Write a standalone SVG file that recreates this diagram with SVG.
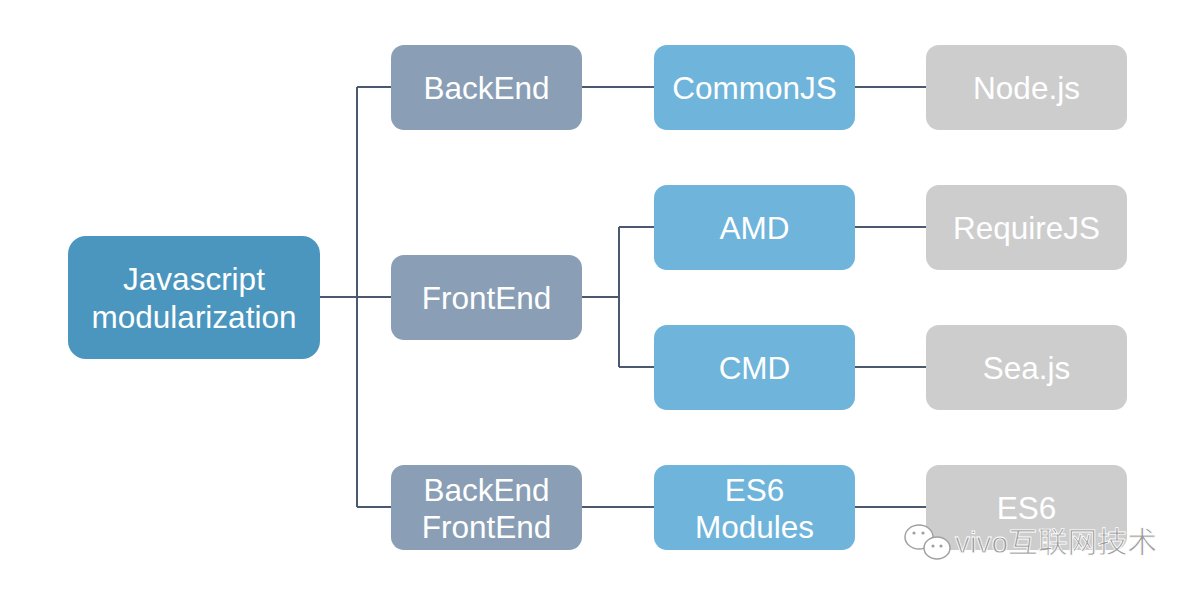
<svg xmlns="http://www.w3.org/2000/svg" width="1195" height="595" viewBox="0 0 1195 595">
<style>
.t{font-family:"Liberation Sans",Arial,sans-serif;font-size:31.5px;fill:#fff;text-anchor:middle}
.c{stroke:#4b5870;stroke-width:2;fill:none}
.wm{font-family:"Liberation Sans","Noto Sans CJK SC",sans-serif;font-size:29px;fill:#9a9a9a;stroke:#fff;stroke-width:0.8}
</style>
<rect width="1195" height="595" fill="#fff"/>
<g id="connectors">
<path class="c" d="M320 297H391M357 87V507M357 87H391M357 507H391"/>
<path class="c" d="M582 297H619M619 227V367M619 227H654M619 367H654"/>
<path class="c" d="M582 87H654M582 507H654"/>
<path class="c" d="M855 87H926M855 227H926M855 367H926M855 507H926"/>
</g>
<g id="root"><rect x="68" y="236" width="252" height="123" rx="18" fill="#4a96be"/><text class="t" x="194" y="290">Javascript</text><text class="t" x="194" y="328">modularization</text></g>
<g id="backend"><rect x="391" y="45" width="191" height="85" rx="13" fill="#8a9fb5"/><text class="t" x="486.5" y="99">BackEnd</text></g>
<g id="frontend"><rect x="391" y="255" width="191" height="85" rx="13" fill="#8a9fb5"/><text class="t" x="486.5" y="309">FrontEnd</text></g>
<g id="backfront"><rect x="391" y="465" width="191" height="85" rx="13" fill="#8a9fb5"/><text class="t" x="486.5" y="501">BackEnd</text><text class="t" x="486.5" y="538">FrontEnd</text></g>
<g id="commonjs"><rect x="654" y="45" width="201" height="85" rx="13" fill="#6fb4da"/><text class="t" x="754.5" y="99">CommonJS</text></g>
<g id="amd"><rect x="654" y="185" width="201" height="85" rx="13" fill="#6fb4da"/><text class="t" x="754.5" y="239">AMD</text></g>
<g id="cmd"><rect x="654" y="325" width="201" height="85" rx="13" fill="#6fb4da"/><text class="t" x="754.5" y="379">CMD</text></g>
<g id="es6modules"><rect x="654" y="465" width="201" height="85" rx="13" fill="#6fb4da"/><text class="t" x="754.5" y="501">ES6</text><text class="t" x="754.5" y="538">Modules</text></g>
<g id="nodejs"><rect x="926" y="45" width="201" height="85" rx="13" fill="#cdcdcd"/><text class="t" x="1026.5" y="99">Node.js</text></g>
<g id="requirejs"><rect x="926" y="185" width="201" height="85" rx="13" fill="#cdcdcd"/><text class="t" x="1026.5" y="239">RequireJS</text></g>
<g id="seajs"><rect x="926" y="325" width="201" height="85" rx="13" fill="#cdcdcd"/><text class="t" x="1026.5" y="379">Sea.js</text></g>
<g id="es6"><rect x="926" y="465" width="201" height="85" rx="13" fill="#cdcdcd"/><text class="t" x="1026.5" y="519">ES6</text></g>
<g id="watermark">
<ellipse cx="919" cy="537" rx="14" ry="12" fill="#fff" stroke="#a0a0a0" stroke-width="1.5"/>
<ellipse cx="937" cy="548" rx="13" ry="11" fill="#fff" stroke="#a0a0a0" stroke-width="1.5"/>
<circle cx="914" cy="533" r="1.6" fill="#a0a0a0"/><circle cx="923" cy="533" r="1.6" fill="#a0a0a0"/>
<circle cx="933" cy="546" r="1.6" fill="#a0a0a0"/><circle cx="941" cy="546" r="1.6" fill="#a0a0a0"/>
<text class="wm" x="955" y="553" textLength="202" lengthAdjust="spacingAndGlyphs">vivo互联网技术</text>
</g>
</svg>
